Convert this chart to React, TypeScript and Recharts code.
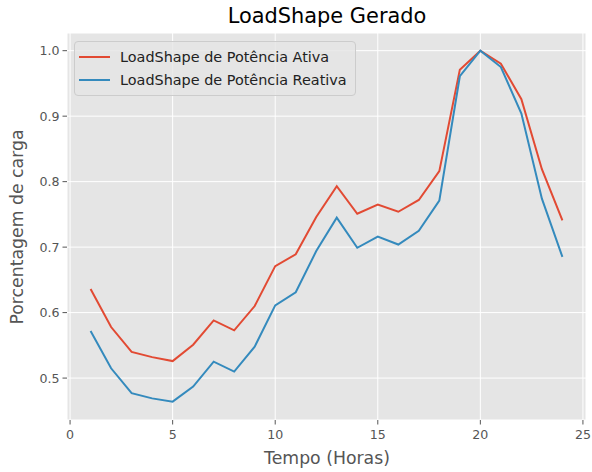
import React from 'react';
import { LineChart, Line, XAxis, YAxis, CartesianGrid } from 'recharts';

const hours = [1, 2, 3, 4, 5, 6, 7, 8, 9, 10, 11, 12, 13, 14, 15, 16, 17, 18, 19, 20, 21, 22, 23, 24];
const ativa = [0.636, 0.578, 0.54, 0.532, 0.526, 0.551, 0.588, 0.573, 0.61, 0.671, 0.689, 0.746,
  0.793, 0.751, 0.765, 0.754, 0.772, 0.816, 0.971, 1.0, 0.98, 0.926, 0.819, 0.741];
const reativa = [0.572, 0.515, 0.477, 0.469, 0.464, 0.487, 0.525, 0.51, 0.548, 0.611, 0.631, 0.694,
  0.745, 0.699, 0.716, 0.704, 0.725, 0.771, 0.961, 1.0, 0.975, 0.904, 0.774, 0.685];
const xTicks = [0, 5, 10, 15, 20, 25];
const yTicks = [0.5, 0.6, 0.7, 0.8, 0.9, 1.0];

const seriesNames = ['LoadShape de Potência Ativa', 'LoadShape de Potência Reativa'];
const COLORS = ['#E24A33', '#348ABD'];

const data = hours.map((h, i) => ({ hora: h, ativa: ativa[i], reativa: reativa[i] }));

const FONT = '"DejaVu Sans", sans-serif';

// legend drawn as an overlay, like matplotlib's "upper left" box
const LegendBox = () => (
  <div
    style={{
      position: 'absolute',
      left: 74,
      top: 41,
      background: 'rgba(229,229,229,0.8)',
      border: '1px solid #cccccc',
      borderRadius: 4,
      padding: '3px 8px 4px 4px',
      fontSize: 14.4,
      color: '#222',
    }}
  >
    {seriesNames.map((name, i) => (
      <div key={name} style={{ display: 'flex', alignItems: 'center', height: 23 }}>
        <span style={{ display: 'inline-block', width: 31, height: 2, background: COLORS[i], marginRight: 10 }} />
        <span>{name}</span>
      </div>
    ))}
  </div>
);

const App: React.FC = () => {
  return (
    <div style={{ position: 'absolute', left: 0, top: 0, width: 592, height: 472, background: '#fff', fontFamily: FONT }}>
      <LineChart width={592} height={472} data={data} margin={{ top: 33, right: 6, bottom: 0, left: 21 }}>
        <CartesianGrid stroke="#ffffff" strokeWidth={1} fill="#E5E5E5" />
        <XAxis
          dataKey="hora"
          type="number"
          domain={[-0.15, 25.15]}
          allowDataOverflow
          ticks={xTicks}
          axisLine={false}
          tickSize={4.5}
          tickMargin={6}
          tickLine={{ stroke: '#555' }}
          tick={{ fill: '#555', fontSize: 12.6, fontFamily: FONT }}
          height={52}
        />
        <YAxis
          type="number"
          domain={[0.436, 1.027]}
          allowDataOverflow
          ticks={yTicks}
          tickFormatter={(v: number) => v.toFixed(1)}
          axisLine={false}
          tickSize={4.5}
          tickMargin={3}
          tickLine={{ stroke: '#555' }}
          tick={{ fill: '#555', fontSize: 12.6, fontFamily: FONT }}
          width={46}
        />
        <Line dataKey="ativa" stroke={COLORS[0]} strokeWidth={2} dot={false} isAnimationActive={false} />
        <Line dataKey="reativa" stroke={COLORS[1]} strokeWidth={2} dot={false} isAnimationActive={false} />
      </LineChart>
      <LegendBox />
      <div style={{ position: 'absolute', left: 67, width: 520, top: 4, textAlign: 'center', fontSize: 20.9, color: '#000' }}>
        LoadShape Gerado
      </div>
      <div
        style={{
          position: 'absolute',
          left: 17,
          top: 227,
          transform: 'translate(-50%, -50%) rotate(-90deg)',
          whiteSpace: 'nowrap',
          fontSize: 17.3,
          color: '#555',
        }}
      >
        Porcentagem de carga
      </div>
      <div style={{ position: 'absolute', left: 67, width: 520, top: 448, textAlign: 'center', fontSize: 17.3, color: '#555' }}>
        Tempo (Horas)
      </div>
    </div>
  );
};

export default App;
